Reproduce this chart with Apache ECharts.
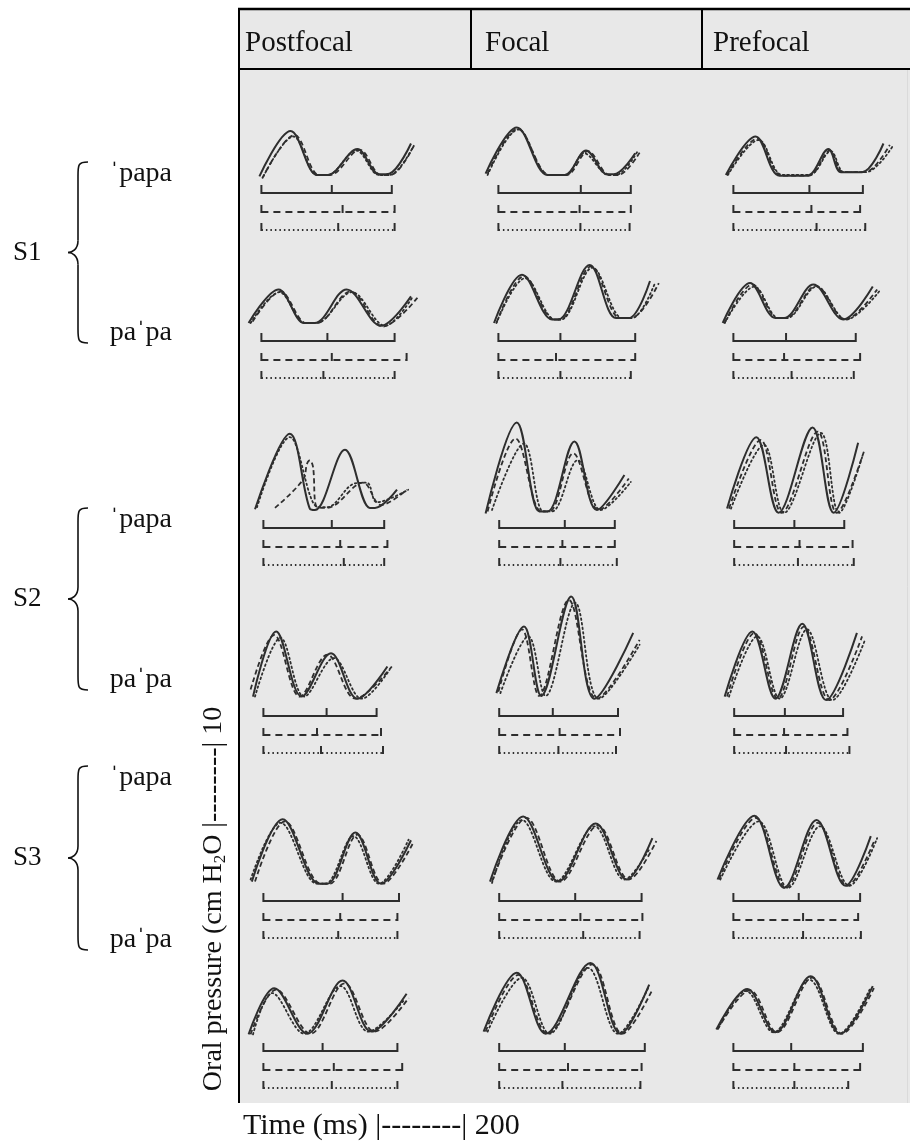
<!DOCTYPE html>
<html>
<head>
<meta charset="utf-8">
<script src="https://cdn.jsdelivr.net/npm/echarts@6/dist/echarts.min.js"></script>
<style>
html, body { margin: 0; padding: 0; background: #fff; }
#chart { width: 910px; height: 1146px; }
</style>
</head>
<body>
<div id="chart"></div>
<script>
// Column headings (prosodic condition) and row labels
const conditions = ['Postfocal', 'Focal', 'Prefocal'];
const speakers = ['S1', 'S2', 'S3'];
const words = ['ˈpapa', 'paˈpa'];
const yTitleParts = ['Oral pressure (cm H', '2', 'O |--------| 10'];
const xTitle = 'Time (ms) |--------| 200';

// Oral pressure traces, [time ms, pressure cm H2O]; each panel holds three
// repetitions: [solid, dashed, dotted]
const S1_initial_postfocal = [
  [[36,-0.2],[114,6.3],[180,0],[206,0],[281,3.7],[335,0.1],[361,0.2],[415,4.5]],
  [[43,-0.5],[124,5.7],[185,0],[212,0],[287,3.6],[340,0],[363,0],[425,4.5]],
  [[46,-0.2],[121,5.5],[180,0],[206,0],[278,3.5],[335,0],[361,0],[420,4.0]]
];
const S1_initial_focal = [
  [[14,0.2],[92,6.8],[169,0],[212,0],[265,3.5],[318,0.1],[334,0.1],[388,3.1]],
  [[19,0.2],[94,6.6],[174,0],[216,0],[270,3.4],[324,0],[345,0],[399,3.2]],
  [[19,0],[96,6.5],[172,0],[214,0],[260,3.1],[322,0],[340,0],[393,3.3]]
];
const S1_initial_prefocal = [
  [[35,0],[110,5.5],[171,-0.1],[240,-0.1],[294,3.7],[326,0.4],[379,0.4],[433,4.5]],
  [[38,0],[115,5.2],[176,-0.1],[244,-0.1],[298,3.5],[331,0.4],[385,0.4],[449,4.3]],
  [[40,0],[118,5.0],[178,0],[246,0],[300,3.4],[334,0.4],[388,0.4],[455,4.0]]
];
const S1_final_postfocal = [
  [[9,0],[84,4.8],[148,0],[174,0],[254,4.8],[340,-0.4],[415,3.8]],
  [[19,0.2],[89,4.5],[153,0],[180,0],[263,4.5],[345,-0.5],[431,3.6]],
  [[14,0],[86,4.4],[150,0],[178,0],[267,4.4],[350,-0.4],[420,3.8]]
];
const S1_final_focal = [
  [[35,0],[105,6.9],[180,0.5],[196,0.5],[274,8.3],[340,0.7],[372,0.7],[425,6.0]],
  [[41,0],[110,6.7],[185,0.5],[201,0.5],[278,8.1],[350,0.7],[377,0.7],[447,5.7]],
  [[41,0],[113,6.4],[188,0.5],[203,0.5],[281,7.9],[356,0.7],[380,0.7],[436,5.5]]
];
const S1_final_prefocal = [
  [[27,0],[96,5.7],[160,0.7],[182,0.7],[256,5.5],[331,0.5],[406,5.2]],
  [[32,0],[102,5.5],[166,0.7],[187,0.7],[262,5.3],[337,0.5],[417,4.8]],
  [[32,0],[107,5.2],[168,0.7],[189,0.7],[264,5.2],[339,0.5],[422,4.5]]
];
const S2_initial_postfocal = [
  [[25,0.1],[112,10.9],[162,0.2],[175,0],[250,8.6],[312,0.3],[325,0.3],[380,2.9]],
  [[75,0.3],[145,4.3],[155,6.6],[162,7.1],[170,6.2],[180,0.4],[205,0.3],[295,3.9],[340,0.7],[405,2.9]],
  [[30,0.4],[112,10.4],[183,0.4],[205,0.4],[275,3.8],[305,3.9],[330,1.1],[408,2.9]]
];
const S2_initial_focal = [
  [[14,-0.5],[92,12.5],[148,-0.2],[169,-0.2],[236,9.8],[292,0],[361,5.0]],
  [[19,-0.2],[89,10.2],[153,-0.2],[174,-0.2],[233,8.1],[297,0],[372,4.5]],
  [[30,0],[110,9.5],[158,-0.2],[180,-0.2],[244,7.1],[302,0],[377,4.0]]
];
const S2_initial_prefocal = [
  [[38,0.2],[112,10.4],[168,-0.4],[254,11.8],[307,-0.4],[369,9.6]],
  [[43,0.2],[123,10.0],[176,-0.4],[267,11.2],[315,-0.4],[385,8.6]],
  [[48,0.2],[131,9.3],[182,-0.4],[275,11.0],[321,-0.4],[381,7.9]]
];
const S2_final_postfocal = [
  [[20,0.2],[78,9.5],[142,0.2],[215,6.4],[281,-0.1],[356,4.5]],
  [[14,1.2],[73,9.0],[137,0.2],[206,6.2],[276,-0.1],[367,4.5]],
  [[25,0.2],[89,8.6],[148,0.2],[222,5.7],[292,-0.1],[361,4.0]]
];
const S2_final_focal = [
  [[41,0.7],[110,10.2],[153,0.3],[228,14.5],[286,-0.1],[383,9.3]],
  [[46,0.9],[105,9.8],[148,0.3],[222,14.0],[292,-0.1],[399,8.3]],
  [[51,0.7],[121,8.8],[164,0.3],[238,13.6],[297,-0.1],[399,7.6]]
];
const S2_final_prefocal = [
  [[32,0.2],[102,9.5],[160,-0.1],[228,10.6],[288,-0.3],[366,9.3]],
  [[38,0.2],[107,9.3],[166,-0.1],[232,10.2],[296,-0.3],[379,8.8]],
  [[43,0.2],[114,8.8],[171,-0.1],[240,9.8],[304,-0.3],[385,8.1]]
];
const S3_initial_postfocal = [
  [[17,0.2],[94,9.1],[185,-0.1],[206,-0.1],[276,7.2],[340,-0.1],[415,6.1]],
  [[25,0.2],[100,8.8],[190,-0.1],[212,-0.1],[281,6.9],[345,-0.1],[420,5.7]],
  [[14,0.5],[89,8.6],[180,-0.1],[201,-0.1],[271,6.7],[335,-0.1],[409,6.2]]
];
const S3_initial_focal = [
  [[25,0.2],[108,9.5],[196,0.2],[289,8.5],[367,0.5],[431,6.4]],
  [[30,0.2],[116,9.3],[201,0.2],[295,8.2],[372,0.5],[441,6.0]],
  [[30,0],[105,9.0],[190,0.2],[286,8.1],[361,0.5],[425,5.0]]
];
const S3_initial_prefocal = [
  [[14,0.5],[107,9.6],[182,-0.7],[264,9.0],[337,-0.4],[401,6.7]],
  [[18,0.5],[110,9.3],[187,-0.7],[267,8.6],[342,-0.4],[411,6.2]],
  [[21,0.5],[118,8.8],[192,-0.7],[273,8.1],[347,-0.4],[417,6.4]]
];
const S3_final_postfocal = [
  [[9,-0.2],[73,6.4],[156,-0.1],[244,7.5],[316,0.2],[404,5.6]],
  [[14,-0.2],[78,6.2],[164,-0.1],[249,7.1],[324,0.2],[409,5.0]],
  [[20,-0.2],[68,5.7],[148,-0.1],[239,6.7],[308,0.2],[399,4.8]]
];
const S3_final_focal = [
  [[9,0.2],[92,8.6],[164,-0.1],[276,10.0],[351,-0.1],[423,6.9]],
  [[14,0.2],[96,8.3],[169,-0.1],[281,9.8],[356,-0.1],[431,6.2]],
  [[19,0.2],[105,7.9],[174,-0.1],[270,9.3],[345,-0.1],[420,6.4]]
];
const S3_final_prefocal = [
  [[11,0.5],[89,6.3],[160,0.1],[249,8.1],[324,-0.1],[406,6.7]],
  [[14,0.5],[96,6.1],[164,0.1],[253,7.9],[328,-0.1],[409,6.4]],
  [[16,0.7],[86,6.0],[155,0.1],[246,7.6],[321,-0.1],[398,6.2]]
];

// Syllable durations, [word onset, syllable boundary, word offset] in ms,
// one bracket per repetition: [solid, dashed, dotted]
const S1_initial_postfocal_dur = [[41,217,367],[41,244,374],[41,233,374]];
const S1_initial_focal_dur     = [[46,252,377],[46,249,377],[46,251,374]];
const S1_initial_prefocal_dur  = [[54,246,381],[54,251,374],[54,264,387]];
const S1_final_postfocal_dur   = [[41,206,374],[41,217,404],[41,196,374]];
const S1_final_focal_dur       = [[46,201,388],[46,190,388],[46,201,377]];
const S1_final_prefocal_dur    = [[54,187,363],[54,182,374],[54,201,358]];
const S2_initial_postfocal_dur = [[46,217,348],[46,238,356],[46,247,348]];
const S2_initial_focal_dur     = [[48,212,337],[48,206,337],[48,201,342]];
const S2_initial_prefocal_dur  = [[56,208,334],[56,221,355],[56,217,358]];
const S2_final_postfocal_dur   = [[46,204,329],[46,180,340],[46,190,345]];
const S2_final_focal_dur       = [[48,182,345],[48,199,350],[48,196,340]];
const S2_final_prefocal_dur    = [[56,184,331],[56,182,342],[56,187,347]];
const S3_initial_postfocal_dur = [[46,244,385],[46,238,381],[46,233,381]];
const S3_initial_focal_dur     = [[48,238,404],[48,251,406],[48,258,399]];
const S3_initial_prefocal_dur  = [[54,219,374],[54,230,369],[54,230,376]];
const S3_final_postfocal_dur   = [[46,194,381],[46,222,393],[46,217,381]];
const S3_final_focal_dur       = [[48,212,412],[48,220,404],[48,206,401]];
const S3_final_prefocal_dur    = [[54,200,381],[54,208,374],[54,208,344]];

// Panel table: rows = speaker x word, columns = condition
const traceRows = [
  [S1_initial_postfocal, S1_initial_focal, S1_initial_prefocal],
  [S1_final_postfocal,   S1_final_focal,   S1_final_prefocal],
  [S2_initial_postfocal, S2_initial_focal, S2_initial_prefocal],
  [S2_final_postfocal,   S2_final_focal,   S2_final_prefocal],
  [S3_initial_postfocal, S3_initial_focal, S3_initial_prefocal],
  [S3_final_postfocal,   S3_final_focal,   S3_final_prefocal]
];
const durationRows = [
  [S1_initial_postfocal_dur, S1_initial_focal_dur, S1_initial_prefocal_dur],
  [S1_final_postfocal_dur,   S1_final_focal_dur,   S1_final_prefocal_dur],
  [S2_initial_postfocal_dur, S2_initial_focal_dur, S2_initial_prefocal_dur],
  [S2_final_postfocal_dur,   S2_final_focal_dur,   S2_final_prefocal_dur],
  [S3_initial_postfocal_dur, S3_initial_focal_dur, S3_initial_prefocal_dur],
  [S3_final_postfocal_dur,   S3_final_focal_dur,   S3_final_prefocal_dur]
];

// ---- layout ----
const INK = '#2e2e2e';
const SERIF = "'Liberation Serif', 'Times New Roman', serif";
const PX_PER_CM = 7;          // pressure scale
const MS_PER_PX = 2.5;        // time scale
const T_MAX = 500, P_MIN = -1, P_MAX = 16;
const rowZero = [175, 323, 510, 698, 883, 1033];   // y of 0 cm H2O per row
const colLeft = [245, 480, 712];
const BAR_OFFSET = [18, 37, 55];
const BAR_DASH = [null, [7, 5], [1.5, 3]];
const TRACE_TYPE = ['solid', [5, 3], [1.6, 3]];

const grids = [], xAxes = [], yAxes = [], series = [];
traceRows.forEach((row, r) => {
  row.forEach((panel, c) => {
    const idx = grids.length;
    grids.push({
      left: colLeft[c],
      top: rowZero[r] - P_MAX * PX_PER_CM,
      width: T_MAX / MS_PER_PX,
      height: (P_MAX - P_MIN) * PX_PER_CM
    });
    xAxes.push({ type: 'value', gridIndex: idx, min: 0, max: T_MAX, show: false });
    yAxes.push({ type: 'value', gridIndex: idx, min: P_MIN, max: P_MAX, show: false });
    panel.forEach((pts, k) => {
      series.push({
        type: 'line', xAxisIndex: idx, yAxisIndex: idx,
        data: pts, showSymbol: false, smooth: 0.35, silent: true,
        lineStyle: { color: INK, width: k === 0 ? 2 : 1.8, type: TRACE_TYPE[k], cap: k === 2 ? 'round' : 'butt' },
        z: 5 - k
      });
    });
    series.push({
      type: 'custom', xAxisIndex: idx, yAxisIndex: idx, clip: false, silent: true,
      data: durationRows[r][c].map((d, k) => [d[0], d[1], d[2], k]),
      encode: { x: [0, 1, 2], y: 3 },
      renderItem: function (params, api) {
        const k = api.value(3);
        const ps = api.coord([api.value(0), 0]);
        const pm = api.coord([api.value(1), 0]);
        const pe = api.coord([api.value(2), 0]);
        const y = ps[1] + BAR_OFFSET[k];
        const h = k === 0 ? 8 : 7;
        const tick = { stroke: INK, lineWidth: 2 };
        return {
          type: 'group',
          children: [
            { type: 'line', shape: { x1: ps[0], y1: y, x2: pe[0], y2: y },
              style: { stroke: INK, lineWidth: 2, lineDash: BAR_DASH[k] } },
            { type: 'line', shape: { x1: ps[0], y1: y - h, x2: ps[0], y2: y + 1 }, style: tick },
            { type: 'line', shape: { x1: pm[0], y1: y - h, x2: pm[0], y2: y + 1 }, style: tick },
            { type: 'line', shape: { x1: pe[0], y1: y - h, x2: pe[0], y2: y + 1 }, style: tick }
          ]
        };
      }
    });
  });
});

// ---- frame, headings and labels ----
const graphic = [];
graphic.push({ type: 'rect', z: -10, shape: { x: 239, y: 9, width: 671, height: 1094 }, style: { fill: '#e8e8e8' } });
graphic.push({ type: 'line', z: 20, shape: { x1: 907.5, y1: 70, x2: 907.5, y2: 1103 }, style: { stroke: '#dadada', lineWidth: 1 } });
graphic.push({ type: 'line', z: 20, shape: { x1: 238, y1: 9, x2: 910, y2: 9 }, style: { stroke: '#000', lineWidth: 2.5 } });
graphic.push({ type: 'line', z: 20, shape: { x1: 238, y1: 69, x2: 910, y2: 69 }, style: { stroke: '#000', lineWidth: 2 } });
graphic.push({ type: 'line', z: 20, shape: { x1: 239, y1: 8, x2: 239, y2: 1103 }, style: { stroke: '#000', lineWidth: 2 } });
[471, 702].forEach(x => graphic.push({ type: 'line', z: 20, shape: { x1: x, y1: 9, x2: x, y2: 69 }, style: { stroke: '#000', lineWidth: 2 } }));

const headX = [245, 485, 713];
conditions.forEach((t, i) => graphic.push({
  type: 'text', z: 20, x: headX[i], y: 43,
  style: { text: t, font: '29px ' + SERIF, fill: '#111', align: 'left', verticalAlign: 'middle' }
}));

// curly braces grouping each speaker's two words
function bracePieces(top, bot) {
  const mid = (top + bot) / 2, bx = 78, tip = 68, end = 88;
  const st = { stroke: '#111', lineWidth: 1.6, fill: null };
  return [
    { type: 'bezierCurve', z: 20, shape: { x1: end, y1: top, cpx1: bx, cpy1: top, cpx2: bx, cpy2: top + 3, x2: bx, y2: top + 14 }, style: st },
    { type: 'line', z: 20, shape: { x1: bx, y1: top + 14, x2: bx, y2: mid - 12 }, style: st },
    { type: 'bezierCurve', z: 20, shape: { x1: bx, y1: mid - 12, cpx1: bx, cpy1: mid - 3, cpx2: tip + 4, cpy2: mid, x2: tip, y2: mid }, style: st },
    { type: 'bezierCurve', z: 20, shape: { x1: tip, y1: mid, cpx1: tip + 4, cpy1: mid, cpx2: bx, cpy2: mid + 3, x2: bx, y2: mid + 12 }, style: st },
    { type: 'line', z: 20, shape: { x1: bx, y1: mid + 12, x2: bx, y2: bot - 14 }, style: st },
    { type: 'bezierCurve', z: 20, shape: { x1: bx, y1: bot - 14, cpx1: bx, cpy1: bot - 3, cpx2: bx, cpy2: bot, x2: end, y2: bot }, style: st }
  ];
}

const wordY = [[174, 333], [520, 680], [778, 940]];
speakers.forEach((s, i) => {
  const top = wordY[i][0] - 12, bot = wordY[i][1] + 10, mid = (top + bot) / 2;
  graphic.push({
    type: 'text', z: 20, x: 13, y: mid,
    style: { text: s, font: '27px ' + SERIF, fill: '#111', align: 'left', verticalAlign: 'middle' }
  });
  bracePieces(top, bot).forEach(p => graphic.push(p));
  words.forEach((w, j) => graphic.push({
    type: 'text', z: 20, x: 172, y: wordY[i][j],
    style: { text: w, font: '28px ' + SERIF, fill: '#111', align: 'right', verticalAlign: 'middle' }
  }));
});

graphic.push({
  type: 'text', z: 20, x: 214, y: 899, rotation: Math.PI / 2,
  style: {
    text: '{t|' + yTitleParts[0] + '}{s|' + yTitleParts[1] + '}{t|' + yTitleParts[2] + '}',
    align: 'center', verticalAlign: 'middle', fill: '#111',
    rich: {
      t: { fontFamily: SERIF, fontSize: 28, lineHeight: 30, fill: '#111' },
      s: { fontFamily: SERIF, fontSize: 17, lineHeight: 14, verticalAlign: 'bottom', fill: '#111' }
    }
  }
});
graphic.push({
  type: 'text', z: 20, x: 243, y: 1126,
  style: { text: xTitle, font: '30px ' + SERIF, fill: '#111', align: 'left', verticalAlign: 'middle' }
});

const chart = echarts.init(document.getElementById('chart'), null, { renderer: 'canvas' });
chart.setOption({
  animation: false,
  backgroundColor: '#ffffff',
  grid: grids,
  xAxis: xAxes,
  yAxis: yAxes,
  series: series,
  graphic: graphic
});
</script>
</body>
</html>
